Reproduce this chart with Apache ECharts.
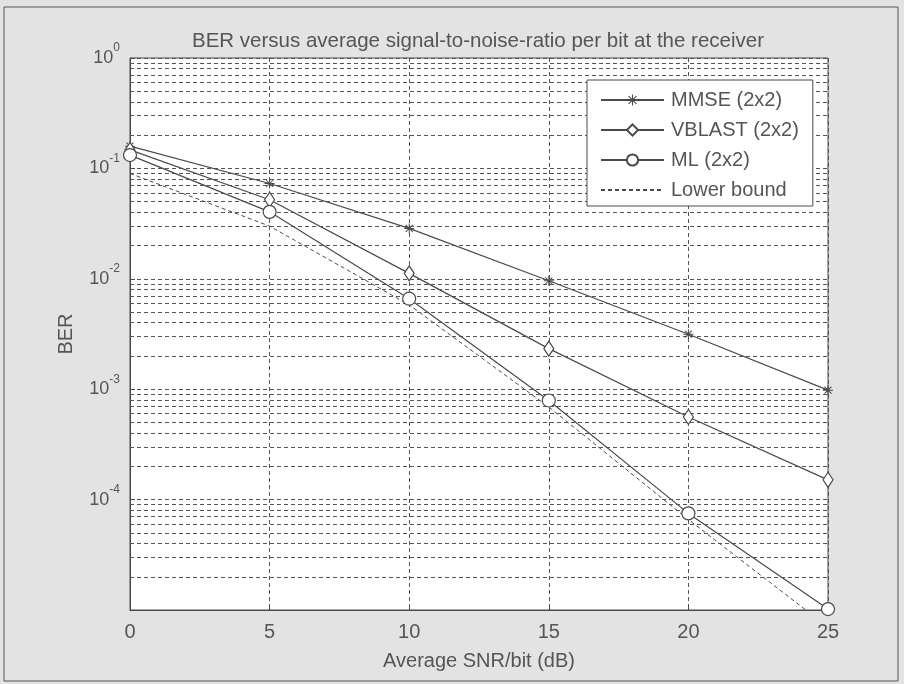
<!DOCTYPE html>
<html>
<head>
<meta charset="utf-8">
<script src="https://cdn.jsdelivr.net/npm/echarts@6/dist/echarts.min.js"></script>
<style>
html,body{margin:0;padding:0;background:#e3e3e3;}
#c{width:904px;height:684px;}
</style>
</head>
<body>
<div id="c"></div>
<script>
// ---- data ----
var snr = [0, 5, 10, 15, 20, 25];
var mmse = [0.159, 0.073, 0.0286, 0.0096, 0.00315, 0.00098];
var vblast = [0.147, 0.052, 0.0112, 0.00233, 0.00056, 0.000151];
var ml = [0.132, 0.0404, 0.0066, 0.00079, 0.000075, 0.0000102];
var lowerBound = [0.09, 0.030, 0.0058, 0.00069, 0.000066, 0.000007];
var seriesNames = ['MMSE (2x2)', 'VBLAST (2x2)', 'ML (2x2)', 'Lower bound'];
var xTicks = [0, 5, 10, 15, 20, 25];
var decades = [-5, -4, -3, -2, -1];
var minorMultipliers = [2, 3, 4, 5, 6, 7, 8, 9];
var titleText = 'BER versus average signal-to-noise-ratio per bit at the receiver';
var xName = 'Average SNR/bit (dB)';
var yName = 'BER';

var FONT = 'Liberation Sans, Arial, sans-serif';
var INK = '#4a4a4a';
var TXT = '#555555';

function pairs(ys) { return snr.map(function (x, i) { return [x, ys[i]]; }); }

// minor log grid lines (2..9 x 10^k), drawn through the cartesian axes
var minorLines = [];
decades.forEach(function (k) {
  minorMultipliers.forEach(function (m) {
    var v = m * Math.pow(10, k);
    minorLines.push({ coords: [[xTicks[0], v], [xTicks[xTicks.length - 1], v]] });
  });
});

var asterisk = 'path://M9,0L11,0L11,20L9,20Z M0,9L20,9L20,11L0,11Z M3.7,2.3L17.7,16.3L16.3,17.7L2.3,3.7Z M17.7,3.7L3.7,17.7L2.3,16.3L16.3,2.3Z';

var chart = echarts.init(document.getElementById('c'), null, { renderer: 'canvas' });
chart.setOption({
  backgroundColor: '#e3e3e3',
  animation: false,
  title: {
    text: titleText,
    left: 473, top: 26, textAlign: 'center',
    textStyle: { fontFamily: FONT, fontSize: 20.5, fontWeight: 'normal', color: TXT }
  },
  grid: {
    left: 130, right: 76, top: 58, bottom: 74,
    show: true, backgroundColor: '#ffffff', borderColor: INK, borderWidth: 1
  },
  legend: {
    data: seriesNames,
    orient: 'vertical',
    left: 587, top: 80, z: 20,
    padding: [10, 14, 6, 13],
    itemGap: 10,
    itemWidth: 63, itemHeight: 14,
    backgroundColor: '#ffffff',
    borderColor: INK, borderWidth: 1,
    textStyle: { fontFamily: FONT, fontSize: 20, color: TXT, padding: [0, 0, 0, 2] }
  },
  xAxis: {
    type: 'value', min: 0, max: 25, interval: 5,
    name: xName, nameLocation: 'middle', nameGap: 41,
    nameTextStyle: { fontFamily: FONT, fontSize: 20, color: TXT },
    axisLine: { show: true, lineStyle: { color: INK } },
    axisTick: { show: true, inside: true, length: 5, lineStyle: { color: INK } },
    axisLabel: {
      fontFamily: FONT, fontSize: 20, color: TXT, margin: 12,
      formatter: function (v) { return xTicks.indexOf(v) >= 0 ? String(v) : ''; }
    },
    splitLine: { show: true, lineStyle: { color: '#555', type: [4, 3], width: 1 } }
  },
  yAxis: {
    type: 'log', logBase: 10, min: 1e-5, max: 1,
    name: yName, nameLocation: 'middle', nameGap: 54, nameRotate: 90,
    nameTextStyle: { fontFamily: FONT, fontSize: 20, color: TXT },
    axisLine: { show: true, lineStyle: { color: INK } },
    axisTick: { show: true, inside: true, length: 5, lineStyle: { color: INK } },
    axisLabel: {
      margin: 10,
      formatter: function (v) {
        var e = Math.round(Math.log10(v));
        if (e <= -5) return '';
        return '{b|10}{s|' + e + '}';
      },
      rich: {
        b: { fontFamily: FONT, fontSize: 18, color: TXT },
        s: { fontFamily: FONT, fontSize: 12, color: TXT, padding: [0, 0, 20, 0] }
      }
    },
    splitLine: { show: true, lineStyle: { color: '#555', type: [4, 3], width: 1 } }
  },
  series: [
    {
      name: 'minorGrid', type: 'lines', coordinateSystem: 'cartesian2d',
      z: 1, silent: true, animation: false,
      lineStyle: { color: '#555', type: [4, 3], width: 1, opacity: 1 },
      data: minorLines
    },
    {
      name: seriesNames[0], type: 'line', data: pairs(mmse), z: 5,
      symbol: asterisk, symbolSize: 10,
      lineStyle: { color: INK, width: 1.2 },
      itemStyle: { color: INK, borderWidth: 0 }
    },
    {
      name: seriesNames[1], type: 'line', data: pairs(vblast), z: 5,
      symbol: 'diamond', symbolSize: [10, 15],
      lineStyle: { color: INK, width: 1.2 },
      itemStyle: { color: '#ffffff', borderColor: INK, borderWidth: 1.2 }
    },
    {
      name: seriesNames[2], type: 'line', data: pairs(ml), z: 5,
      symbol: 'circle', symbolSize: 13,
      lineStyle: { color: INK, width: 1.2 },
      itemStyle: { color: '#ffffff', borderColor: INK, borderWidth: 1.2 }
    },
    {
      name: seriesNames[3], type: 'line', data: pairs(lowerBound), z: 4,
      symbol: 'circle', showSymbol: false, clip: true,
      lineStyle: { color: INK, width: 1, type: [4, 3] },
      itemStyle: { color: 'rgba(0,0,0,0)', borderColor: 'rgba(0,0,0,0)' }
    }
  ],
  graphic: [
    { type: 'rect', shape: { x: 4, y: 7, width: 894, height: 674 },
      style: { fill: 'none', stroke: '#555', lineWidth: 1 }, silent: true, z: 100 }
  ]
});
</script>
</body>
</html>
